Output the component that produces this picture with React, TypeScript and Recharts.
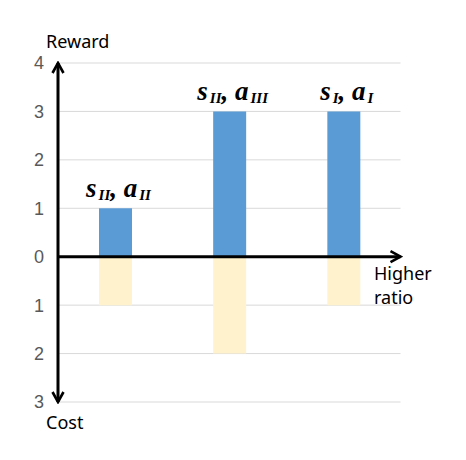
import React from 'react';
import { BarChart, Bar, XAxis, YAxis, CartesianGrid, ReferenceLine, LabelList } from 'recharts';

const categories = ['s_II,a_II', 's_II,a_III', 's_I,a_I'];
const rewardValues = [1, 3, 3];
const costValues = [1, 2, 1];
const stateSubs = ['II', 'II', 'I'];
const actionSubs = ['II', 'III', 'I'];
const yTicks = [-3, -2, -1, 0, 1, 2, 3, 4];

const data = categories.map((c, i) => ({
  category: c,
  reward: rewardValues[i],
  cost: -costValues[i],
}));

const BLUE = '#5B9BD5';
const YELLOW = '#FFF2CC';

const PairLabel = (props: any) => {
  const { x, y, width, index } = props;
  const cx = Number(x) + Number(width) / 2 + 3;
  const by = Number(y) - 11;
  return (
    <text
      x={cx}
      y={by}
      textAnchor="middle"
      fontFamily="'Liberation Serif', 'DejaVu Serif', serif"
      fontWeight="bold"
      fontStyle="italic"
      fontSize={27}
      fill="#000"
    >
      <tspan>s</tspan>
      <tspan fontSize={15} dy={3} dx={2}>{stateSubs[index]}</tspan>
      <tspan fontSize={27} dy={-3}>{', a'}</tspan>
      <tspan fontSize={15} dy={3} dx={2}>{actionSubs[index]}</tspan>
    </text>
  );
};

const HArrow = (p: any) => (
  <line
    x1={p.x1}
    y1={p.y1}
    x2={p.x2}
    y2={p.y2}
    stroke="#000"
    strokeWidth={3}
    markerEnd="url(#arrowHead)"
  />
);

const labelStyle: React.CSSProperties = {
  fontFamily: "'Noto Sans', 'Liberation Sans', sans-serif",
  fontSize: 18,
  fill: '#000',
};

export default function App() {
  return (
    <div style={{ position: 'absolute', left: 0, top: 0, width: 466, height: 460, background: '#fff' }}>
      <svg width={0} height={0} style={{ position: 'absolute' }}>
        <defs>
          <marker
            id="arrowHead"
            viewBox="0 0 14 14"
            refX={12}
            refY={7}
            markerWidth={14}
            markerHeight={14}
            markerUnits="userSpaceOnUse"
            orient="auto-start-reverse"
          >
            <path d="M2,1.5 L12,7 L2,12.5" fill="none" stroke="#000" strokeWidth={2.6} />
          </marker>
        </defs>
      </svg>
      <BarChart
        width={466}
        height={460}
        data={data}
        stackOffset="sign"
        margin={{ top: 63, right: 65.5, bottom: 58, left: 0 }}
        barSize={33}
      >
        <CartesianGrid horizontal vertical={false} stroke="#D9D9D9" strokeWidth={1} />
        <XAxis dataKey="category" hide />
        <YAxis
          type="number"
          domain={[-3, 4]}
          ticks={yTicks}
          width={58}
          interval={0}
          tickLine={false}
          tickSize={0}
          tickMargin={14}
          tickFormatter={(v: number) => String(Math.abs(v))}
          tick={{ fill: '#595959', fontSize: 18, fontFamily: "'Liberation Sans', sans-serif" }}
          axisLine={{ stroke: '#000', strokeWidth: 3, markerStart: 'url(#arrowHead)', markerEnd: 'url(#arrowHead)' } as any}
        />
        <Bar dataKey="reward" stackId="a" fill={BLUE} isAnimationActive={false}>
          <LabelList dataKey="reward" content={PairLabel} />
        </Bar>
        <Bar dataKey="cost" stackId="a" fill={YELLOW} isAnimationActive={false} />
        <ReferenceLine y={0} shape={HArrow} />
      </BarChart>
      <svg width={466} height={460} style={{ position: 'absolute', left: 0, top: 0, pointerEvents: 'none' }}>
        <text x={46} y={48} style={labelStyle}>Reward</text>
        <text x={46} y={429} style={labelStyle}>Cost</text>
        <text x={374} y={280} style={labelStyle}>Higher</text>
        <text x={374} y={304} style={labelStyle}>ratio</text>
      </svg>
    </div>
  );
}
